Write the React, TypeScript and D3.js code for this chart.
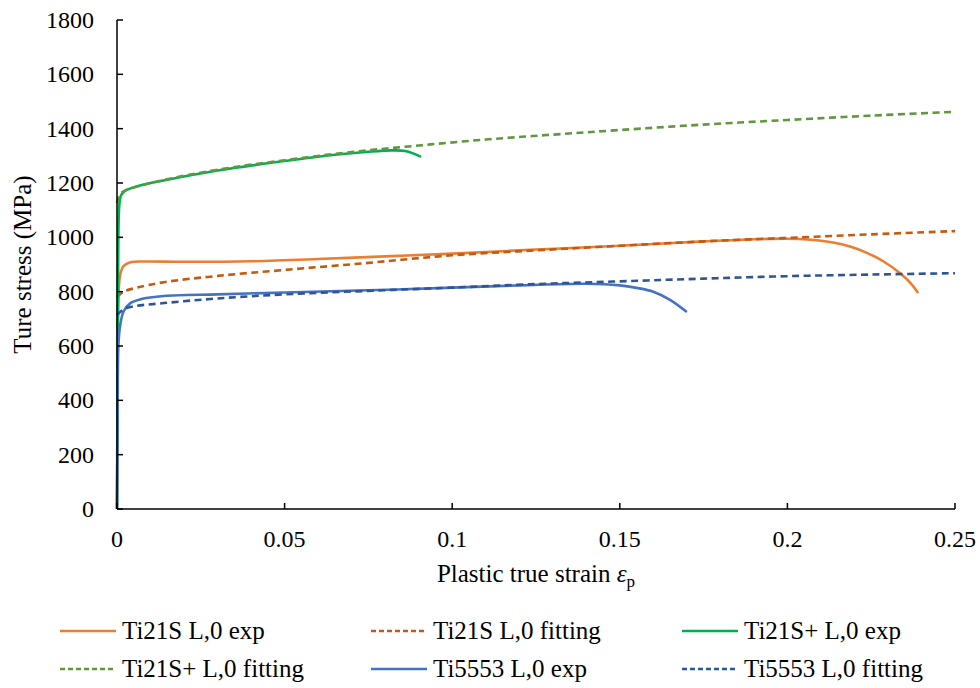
import React from "react";
import * as d3 from "d3";

const xTicks = [0, 0.05, 0.1, 0.15, 0.2, 0.25];
const xTickLabels = ["0", "0.05", "0.1", "0.15", "0.2", "0.25"];
const yTicks = [0, 200, 400, 600, 800, 1000, 1200, 1400, 1600, 1800];

const ti21sExp: [number, number][] = [
  [0, 0], [0.0002, 400], [0.0004, 760], [0.0007, 840], [0.0012, 875], [0.002, 895], [0.004, 908],
  [0.008, 911], [0.02, 910], [0.04, 912], [0.06, 920], [0.08, 930], [0.1, 940], [0.125, 955],
  [0.15, 969], [0.175, 985], [0.19, 993], [0.2, 995], [0.207, 991], [0.2136, 981], [0.2187, 966],
  [0.2237, 943], [0.2286, 912], [0.2336, 868], [0.2365, 835], [0.239, 795],
];
const ti21sFit: [number, number][] = [
  [0, 780], [0.002, 800], [0.006, 815], [0.014, 835], [0.03, 858], [0.05, 880], [0.075, 906],
  [0.1, 934], [0.125, 952], [0.15, 969], [0.175, 985], [0.2, 998], [0.225, 1011], [0.25, 1023],
];
const ti21sPlusExp: [number, number][] = [
  [0, 0], [0.0002, 600], [0.0004, 1000], [0.0007, 1120], [0.0012, 1155], [0.0025, 1172], [0.006, 1188],
  [0.015, 1212], [0.03, 1246], [0.05, 1281], [0.065, 1304], [0.075, 1315], [0.082, 1320],
  [0.086, 1318], [0.0885, 1308], [0.0907, 1296],
];
const ti21sPlusFit: [number, number][] = [
  [0, 1126], [0.001, 1160], [0.003, 1176], [0.007, 1190], [0.015, 1214], [0.03, 1249], [0.05, 1284],
  [0.07, 1314], [0.09, 1338], [0.11, 1360], [0.13, 1378], [0.15, 1395], [0.175, 1415], [0.2, 1432],
  [0.225, 1448], [0.25, 1462],
];
const ti5553Exp: [number, number][] = [
  [0, 0], [0.0002, 350], [0.0004, 600], [0.001, 680], [0.002, 728], [0.004, 758], [0.007, 772],
  [0.014, 784], [0.03, 790], [0.05, 797], [0.075, 805], [0.1, 815], [0.12, 823], [0.14, 829],
  [0.15, 823], [0.155, 814], [0.16, 800], [0.165, 770], [0.17, 725],
];
const ti5553Fit: [number, number][] = [
  [0, 714], [0.002, 735], [0.005, 746], [0.014, 758], [0.03, 775], [0.05, 790], [0.075, 803],
  [0.1, 815], [0.125, 828], [0.15, 838], [0.175, 848], [0.2, 857], [0.225, 863], [0.25, 868],
];

const seriesNames = [
  "Ti21S L,0 exp", "Ti21S L,0 fitting", "Ti21S+ L,0 exp",
  "Ti21S+ L,0 fitting", "Ti5553 L,0 exp", "Ti5553 L,0 fitting",
];
const seriesData = [ti21sExp, ti21sFit, ti21sPlusExp, ti21sPlusFit, ti5553Exp, ti5553Fit];
const seriesColors = ["#ED7D31", "#C55A11", "#00B050", "#62963F", "#4472C4", "#2F5597"];
const seriesDashed = [false, true, false, true, false, true];

const FS = 25;
const TICK_FS = 24;

function T(props: any) {
  const { children, style, ...rest } = props;
  return (
    <text fontFamily="Liberation Serif" fontSize={FS} fill="#000" {...rest}
      style={{ fontFamily: "'Liberation Serif'", ...(style || {}) }}>
      {children}
    </text>
  );
}

export default function App() {
  const W = 980, H = 688;
  const left = 117, right = 955, top = 20, bottom = 509;
  const x = d3.scaleLinear().domain([0, 0.25]).range([left, right]);
  const y = d3.scaleLinear().domain([0, 1800]).range([bottom, top]);
  const line = d3.line<[number, number]>()
    .x(d => x(d[0])).y(d => y(d[1]))
    .curve(d3.curveCatmullRom.alpha(0.5));

  const legendCols = [60, 371, 682];
  const legendRows = [631, 669];

  return (
    <svg width={W} height={H} style={{ display: "block", background: "#fff" }}>
      <style>{"html, body { margin: 0 !important; padding: 0 !important; } text, tspan { font-family: 'Liberation Serif' !important; }"}</style>
      <rect x={0} y={0} width={W} height={H} fill="#fff" />
      {seriesData.map((d, i) => (
        <path key={i} d={line(d) || ""} fill="none" stroke={seriesColors[i]}
          strokeWidth={2.6} strokeDasharray={seriesDashed[i] ? "7,4.5" : undefined}
          strokeLinejoin="round" />
      ))}
      <line x1={left} x2={left} y1={top} y2={bottom} stroke="#000" strokeWidth={1.5} />
      <line x1={left} x2={right} y1={bottom} y2={bottom} stroke="#000" strokeWidth={1.5} />
      {yTicks.map(t => (
        <g key={t}>
          <line x1={left} x2={left + 6} y1={y(t)} y2={y(t)} stroke="#000" strokeWidth={1.5} />
          <T x={94} y={y(t)} dy="0.33em" textAnchor="end" fontSize={TICK_FS}>{t}</T>
        </g>
      ))}
      {xTicks.map((t, i) => (
        <g key={t}>
          <line x1={x(t)} x2={x(t)} y1={bottom} y2={bottom - 6} stroke="#000" strokeWidth={1.5} />
          <T x={x(t)} y={547} textAnchor="middle" fontSize={TICK_FS}>{xTickLabels[i]}</T>
        </g>
      ))}
      <T x={536} y={582} textAnchor="middle">
        Plastic true strain <tspan fontStyle="italic">ε</tspan>
        <tspan fontSize={17} dy={5}>p</tspan>
      </T>
      <T transform={`translate(31,${(top + bottom) / 2}) rotate(-90)`} textAnchor="middle">Ture stress (MPa)</T>
      {seriesNames.map((name, i) => {
        const cx = legendCols[i % 3];
        const cy = legendRows[Math.floor(i / 3)];
        return (
          <g key={name}>
            <line x1={cx} x2={cx + 56} y1={cy} y2={cy} stroke={seriesColors[i]} strokeWidth={2.6}
              strokeDasharray={seriesDashed[i] ? "5,3" : undefined} />
            <T x={cx + 62} y={cy} dy="0.33em">{name}</T>
          </g>
        );
      })}
    </svg>
  );
}
